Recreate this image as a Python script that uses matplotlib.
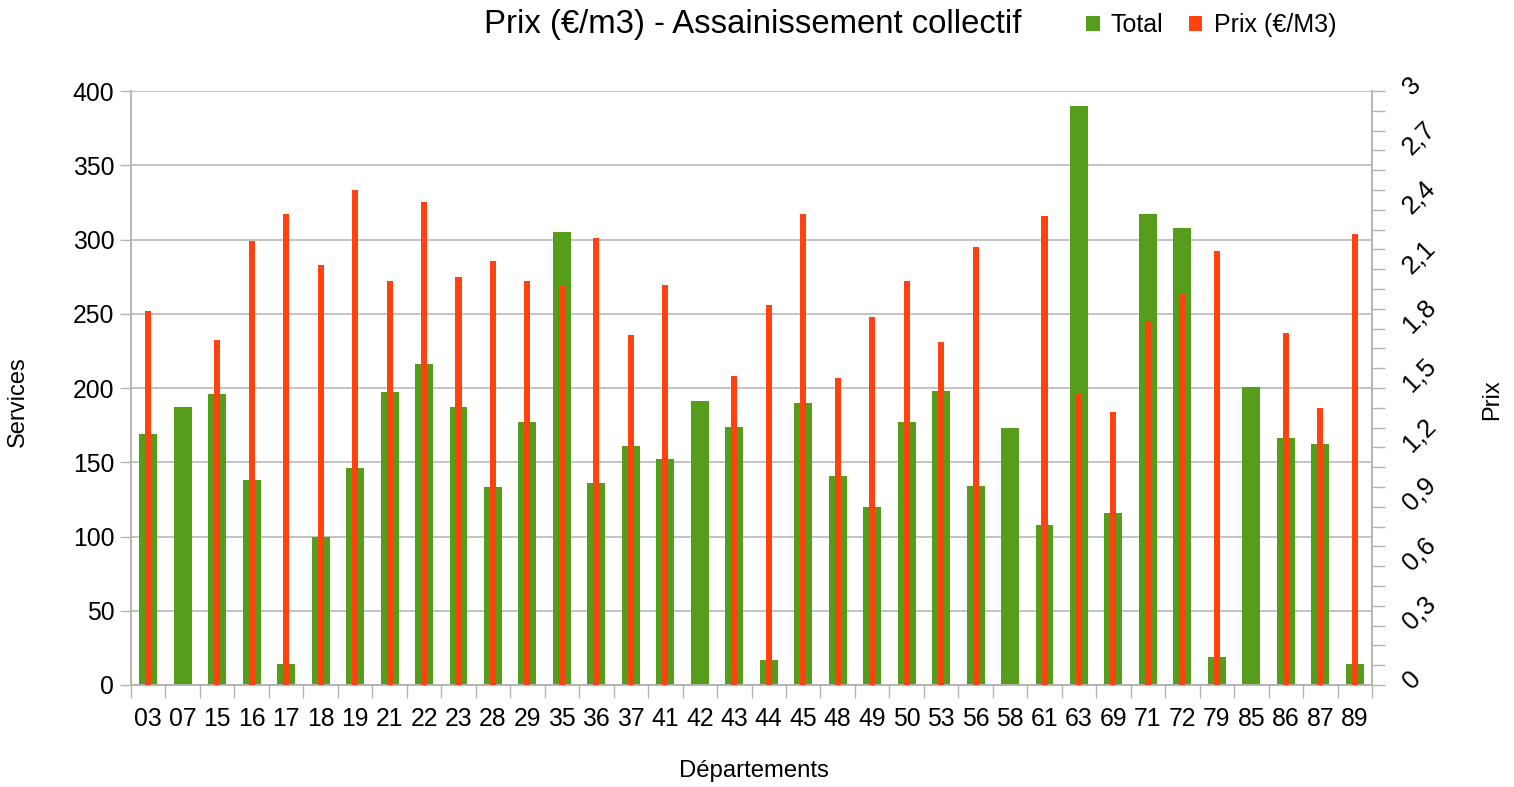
import numpy as np
import matplotlib
matplotlib.use('Agg')
import matplotlib.pyplot as plt
from matplotlib.ticker import MultipleLocator, FixedLocator

plt.rcParams['font.family'] = ['Liberation Sans', 'DejaVu Sans']

departements = ['03', '07', '15', '16', '17', '18', '19', '21', '22', '23', '28', '29',
                '35', '36', '37', '41', '42', '43', '44', '45', '48', '49', '50', '53',
                '56', '58', '61', '63', '69', '71', '72', '79', '85', '86', '87', '89']

# nombre de services par departement
total = [169, 187, 196, 138, 14, 100, 146, 197, 216, 187, 133, 177,
         305, 136, 161, 152, 191, 174, 17, 190, 141, 120, 177, 198,
         134, 173, 108, 390, 116, 317, 308, 19, 201, 166, 162, 14]

# prix moyen en euros par m3 (nan = pas de donnee)
nan = np.nan
prix = [1.89, nan, 1.74, 2.24, 2.38, 2.12, 2.50, 2.04, 2.44, 2.06, 2.14, 2.04,
        2.02, 2.26, 1.77, 2.02, nan, 1.56, 1.92, 2.38, 1.55, 1.86, 2.04, 1.73,
        2.21, nan, 2.37, 1.47, 1.38, 1.84, 1.98, 2.19, nan, 1.78, 1.40, 2.28]

prix_ticks = [0, 0.3, 0.6, 0.9, 1.2, 1.5, 1.8, 2.1, 2.4, 2.7, 3]
prix_ticklabels = ['0', '0,3', '0,6', '0,9', '1,2', '1,5', '1,8', '2,1', '2,4', '2,7', '3']

GREEN = '#579d1c'
RED = '#ff420e'
GRID = '#b3b3b3'

fig = plt.figure(figsize=(15.14, 7.87), dpi=100)
ax = fig.add_axes([131 / 1514, 1 - 685 / 787, (1372 - 131) / 1514, (685 - 91) / 787])
ax2 = ax.twinx()

x = np.arange(len(departements))
ax.bar(x, total, width=0.52, color=GREEN, label='Total', zorder=2)
ax2.bar(x, prix, width=0.175, color=RED, label='Prix (€/M3)', zorder=3)

ax.set_xlim(-0.5, len(departements) - 0.5)
ax.set_ylim(0, 400)
ax2.set_ylim(0, 3)

# left axis
ax.yaxis.set_major_locator(MultipleLocator(50))
ax.yaxis.grid(True, color=GRID, linewidth=1.1, zorder=0)
ax.set_axisbelow(True)
ax.tick_params(axis='y', length=8, width=1, color=GRID, pad=4, labelsize=17.8)

# categories: labels centred, tick marks between bars
ax.set_xticks(x)
ax.set_xticklabels(departements)
ax.xaxis.set_minor_locator(FixedLocator(np.arange(-0.5, len(departements), 1)))
ax.tick_params(axis='x', which='major', length=0, pad=16, labelsize=17.8)
ax.tick_params(axis='x', which='minor', length=9, width=1, color=GRID)

# right axis, labels slanted upward from the tick
ax2.set_yticks(prix_ticks)
ax2.set_yticklabels(prix_ticklabels, rotation=45, rotation_mode='anchor',
                    ha='left', va='center', fontsize=18.5)
ax2.yaxis.set_minor_locator(MultipleLocator(0.1))
ax2.tick_params(axis='y', which='both', length=9, width=1, color=GRID)
ax2.tick_params(axis='y', which='major', pad=16)

for a in (ax, ax2):
    a.spines['top'].set_visible(False)
    for side in ('left', 'right', 'bottom'):
        a.spines[side].set_color(GRID)
        a.spines[side].set_linewidth(1.1)

fig.text(18 / 1514, 1 - 402 / 787, 'Services', rotation=90, ha='center', va='center', fontsize=17)
fig.text(1492 / 1514, 1 - 400 / 787, 'Prix', rotation=90, ha='center', va='center', fontsize=17)
fig.text(754 / 1514, 1 - 771 / 787, 'Départements', ha='center', va='center', fontsize=17.2)

fig.text(753 / 1514, 1 - 24 / 787, 'Prix (€/m3) - Assainissement collectif',
         ha='center', va='center', fontsize=23.7)

h1, l1 = ax.get_legend_handles_labels()
h2, l2 = ax2.get_legend_handles_labels()
fig.legend(h1 + h2, l1 + l2, loc='center', bbox_to_anchor=(1211 / 1514, 1 - 25 / 787),
           ncol=2, frameon=False, fontsize=18, handlelength=0.55, handleheight=0.55,
           handletextpad=0.45, columnspacing=1.0, borderpad=0)

fig.savefig('out.png', dpi=100)
